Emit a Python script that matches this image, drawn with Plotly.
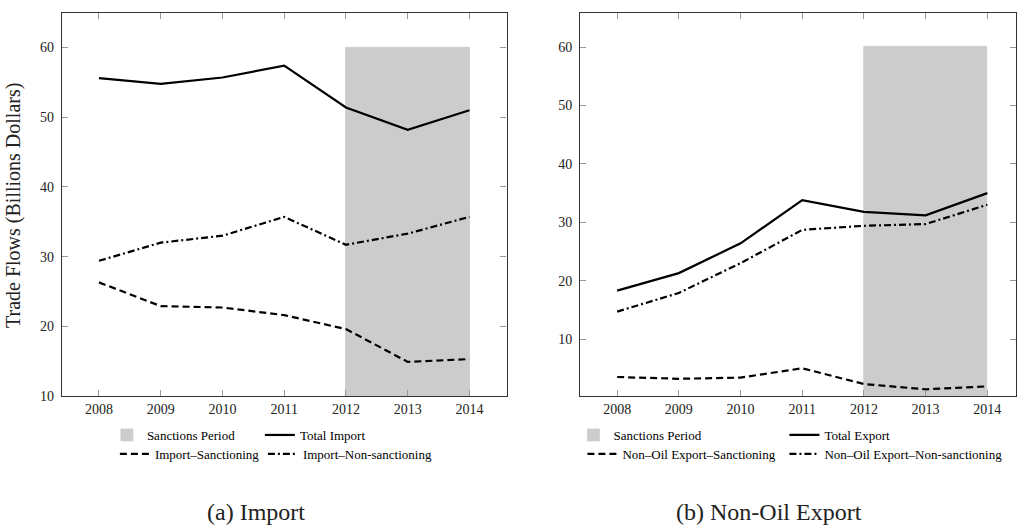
import plotly.graph_objects as go

# ---- data ----
years = [2008, 2009, 2010, 2011, 2012, 2013, 2014]

import_total = [55.6, 54.8, 55.7, 57.4, 51.4, 48.2, 51.0]
import_sanctioning = [26.3, 22.9, 22.7, 21.6, 19.6, 14.9, 15.3]
import_non_sanctioning = [29.4, 32.0, 33.0, 35.7, 31.7, 33.3, 35.7]

export_total = [18.3, 21.3, 26.4, 33.8, 31.8, 31.2, 35.0]
export_sanctioning = [3.5, 3.2, 3.4, 5.0, 2.3, 1.4, 1.9]
export_non_sanctioning = [14.7, 17.9, 23.0, 28.7, 29.4, 29.7, 33.0]

sanctions_start = 2012
sanctions_end = 2014
sanctions_top = 60

y_ticks_left = [10, 20, 30, 40, 50, 60]
y_ticks_right = [10, 20, 30, 40, 50, 60]

# ---- styling ----
FONT = "Liberation Serif"
W, H = 1017, 528          # reference pixel frame (positions are fractions of it)
FIG_H = 536               # figure height
SHADE = "#cccccc"
DASH = "7px,4px"
DASHDOT = "7px,3px,2px,3px"

fig = go.Figure()


def add_panel(xa, ya, total, sanc, nonsanc, names, leg_a, leg_b, last_w):
    fig.add_trace(go.Bar(
        x=[(sanctions_start + sanctions_end) / 2], y=[sanctions_top], base=0,
        width=[sanctions_end - sanctions_start],
        marker=dict(color=SHADE, line=dict(width=0.8, color=SHADE)),
        name="Sanctions Period", xaxis=xa, yaxis=ya, legend=leg_a,
        hoverinfo="skip"))
    fig.add_trace(go.Scatter(
        x=years, y=total, mode="lines", name=names[0],
        line=dict(color="black", width=2.2), xaxis=xa, yaxis=ya, legend=leg_a,
        legendwidth=100))
    fig.add_trace(go.Scatter(
        x=years, y=sanc, mode="lines", name=names[1],
        line=dict(color="black", width=2.2, dash=DASH), xaxis=xa, yaxis=ya, legend=leg_b))
    fig.add_trace(go.Scatter(
        x=years, y=nonsanc, mode="lines", name=names[2],
        line=dict(color="black", width=2.2, dash=DASHDOT), xaxis=xa, yaxis=ya, legend=leg_b,
        legendwidth=last_w))


add_panel("x", "y", import_total, import_sanctioning, import_non_sanctioning,
          ["Total Import", "Import–Sanctioning", "Import–Non-sanctioning"],
          "legend", "legend2", 150)
add_panel("x2", "y2", export_total, export_sanctioning, export_non_sanctioning,
          ["Total Export", "Non–Oil Export–Sanctioning", "Non–Oil Export–Non-sanctioning"],
          "legend3", "legend4", 180)

axis_common = dict(
    showgrid=False, zeroline=False, showline=True, linecolor="#333", linewidth=1.2,
    mirror="ticks", ticks="inside", ticklen=6, tickcolor="#999", tickwidth=1,
    tickfont=dict(family=FONT, size=14, color="#222"),
)

y_dom = [1 - 396 / H, 1 - 12.7 / H]

fig.update_layout(
    width=W, height=FIG_H,
    margin=dict(l=0, r=0, t=0, b=0),
    paper_bgcolor="white", plot_bgcolor="white",
    showlegend=True,
    bargap=0,
    xaxis=dict(domain=[62 / W, 507 / W], range=[2007.4, 2014.6], tickvals=years,
               anchor="y", **axis_common),
    yaxis=dict(domain=y_dom, range=[10, 65], tickvals=y_ticks_left, anchor="x",
               ticklabelstandoff=4, **axis_common),
    xaxis2=dict(domain=[580.7 / W, 1.0], range=[2007.4, 2014.465], tickvals=years,
                anchor="y2", **axis_common),
    yaxis2=dict(domain=y_dom, range=[0.25, 65.9], tickvals=y_ticks_right, anchor="x2",
                ticklabelstandoff=4, **axis_common),
)

leg_common = dict(orientation="h", xanchor="left", yanchor="middle",
                  entrywidthmode="pixels", bgcolor="rgba(0,0,0,0)",
                  font=dict(family=FONT, size=13, color="black"),
                  traceorder="normal", tracegroupgap=0)

fig.update_layout(
    legend=dict(x=107 / W, y=1 - 435 / H, entrywidth=108, **leg_common),
    legend2=dict(x=115 / W, y=1 - 454 / H, entrywidth=103, **leg_common),
    legend3=dict(x=574 / W, y=1 - 435 / H, entrywidth=166, **leg_common),
    legend4=dict(x=583 / W, y=1 - 454 / H, entrywidth=157, **leg_common),
)

fig.add_annotation(text="Trade Flows (Billions Dollars)", textangle=-90,
                   x=14 / W, y=1 - 205 / H, xref="paper", yref="paper",
                   xanchor="center", yanchor="middle",
                   showarrow=False, font=dict(family=FONT, size=20, color="#222"))
fig.add_annotation(text="(a) Import", x=256 / W, y=1 - 512 / H, xref="paper", yref="paper",
                   xanchor="center", yanchor="middle",
                   showarrow=False, font=dict(family=FONT, size=24, color="#222"))
fig.add_annotation(text="(b) Non-Oil Export", x=770 / W, y=1 - 512 / H, xref="paper",
                   yref="paper", xanchor="center", yanchor="middle", showarrow=False,
                   font=dict(family=FONT, size=24, color="#222"))

fig.write_html("out.html", config={"displayModeBar": False},
               post_script="document.body.style.margin='0px';")
